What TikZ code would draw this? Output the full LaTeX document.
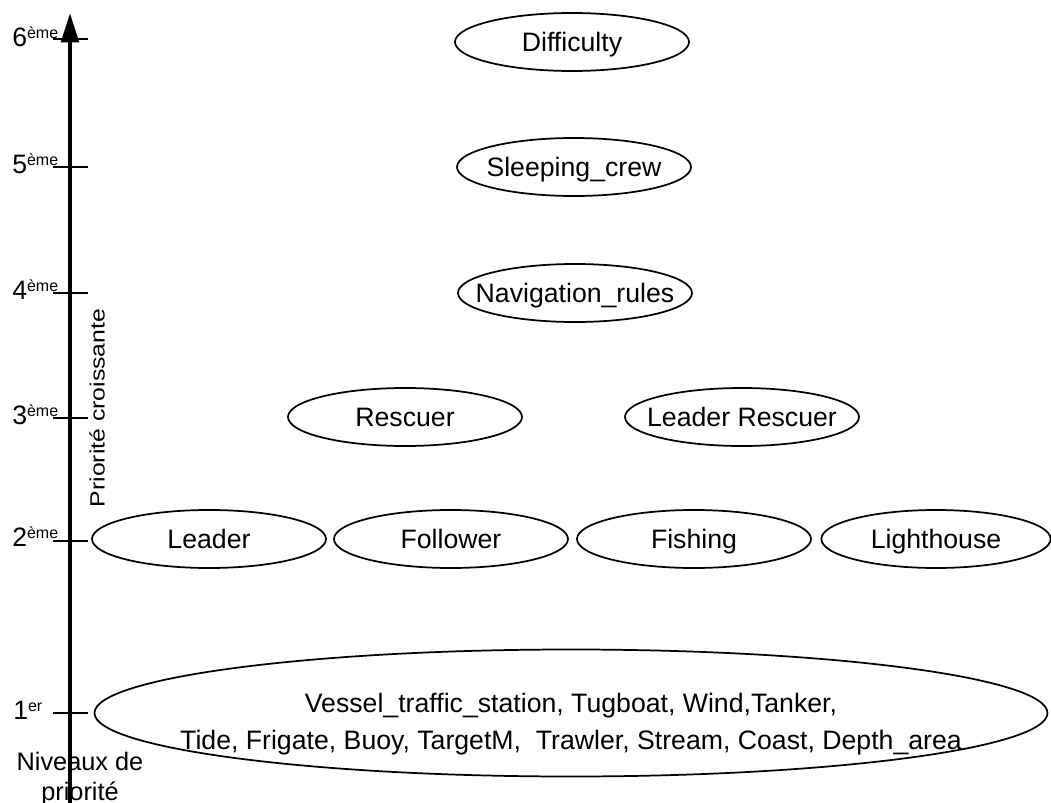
\documentclass[tikz,border=0pt]{standalone}
\usepackage{fontspec}
\setmainfont{Liberation Sans}
\usetikzlibrary{shapes.geometric,arrows.meta}
\newcommand\lvl[2]{#1\raisebox{6pt}{\fontsize{12}{12}\selectfont #2}}
\newcommand\zw[1]{\makebox[0pt]{#1}}
\begin{document}
\begin{tikzpicture}[x=0.75pt,y=-0.75pt,
  ell/.style={ellipse,draw,line width=1.3pt,inner sep=0pt,outer sep=0pt,
    text height=14.3pt,text depth=0pt,
    minimum width=175.5pt,minimum height=43.5pt,font=\fontsize{20}{23}\selectfont},
  tick/.style={line width=1.7pt},
  axisline/.style={line width=3.2pt,-{Triangle[width=13pt,length=22pt]}},
  lvllabel/.style={anchor=base west,inner sep=0pt,font=\fontsize{20}{23}\selectfont},
  axtext/.style={inner sep=0pt,font=\fontsize{19}{22.5}\selectfont}]
\useasboundingbox[fill=white] (0,0) rectangle (1051,803);

% ticks
\foreach \n/\t in {t6/39,t5/167,t4/293,t3/418,t2/541,t1/713}{
  \coordinate (\n a) at (53,\t);
  \coordinate (\n b) at (88,\t);
  \draw[tick] (\n a) -- (\n b);
}
% axis
\coordinate (axbot) at (70,803);
\coordinate (axtop) at (70,13);
\draw[axisline] (axbot) -- (axtop);

% level labels
\node[lvllabel] (l6) at (12,46) {\lvl{6}{ème}};
\node[lvllabel] (l5) at (12,173) {\lvl{5}{ème}};
\node[lvllabel] (l4) at (12,299) {\lvl{4}{ème}};
\node[lvllabel] (l3) at (12,424) {\lvl{3}{ème}};
\node[lvllabel] (l2) at (12,546) {\lvl{2}{ème}};
\node[lvllabel] (l1) at (13,719) {\lvl{1}{er}};

% axis titles
\node[inner sep=0pt,rotate=90,font=\fontsize{15.5}{18}\selectfont] (croiss) at (97,408)
  {\scalebox{1.2}[1]{Priorité croissante}};
\node[axtext,align=center,anchor=base] (niv) at (80,800) {Niveaux de\\priorité};

% ellipses
\node[ell] (diff) at (572,42) {\zw{Difficulty}};
\node[ell] (sleep) at (574,167) {\zw{Sleeping\_crew}};
\node[ell] (nav) at (575,293) {\zw{Navigation\_rules}};
\node[ell] (resc) at (405,417) {\zw{Rescuer}};
\node[ell] (lresc) at (742,417) {\zw{Leader Rescuer}};
\node[ell] (lead) at (209,539) {\zw{Leader}};
\node[ell] (foll) at (451,539) {\zw{Follower}};
\node[ell] (fish) at (694,539) {\zw{Fishing}};
\node[ell,minimum width=172pt] (light) at (936,539) {\zw{Lighthouse}};
\node[ell,minimum width=714.75pt,minimum height=95.25pt] (env) at (571,713) {};
\node[align=center,inner sep=0pt,font=\fontsize{20}{27.3}\selectfont] (envtext) at (571,724)
  {Vessel\_traffic\_station, Tugboat, Wind,Tanker,\\Tide, Frigate, Buoy, TargetM, ~Trawler, Stream, Coast, Depth\_area};
\end{tikzpicture}
\end{document}
